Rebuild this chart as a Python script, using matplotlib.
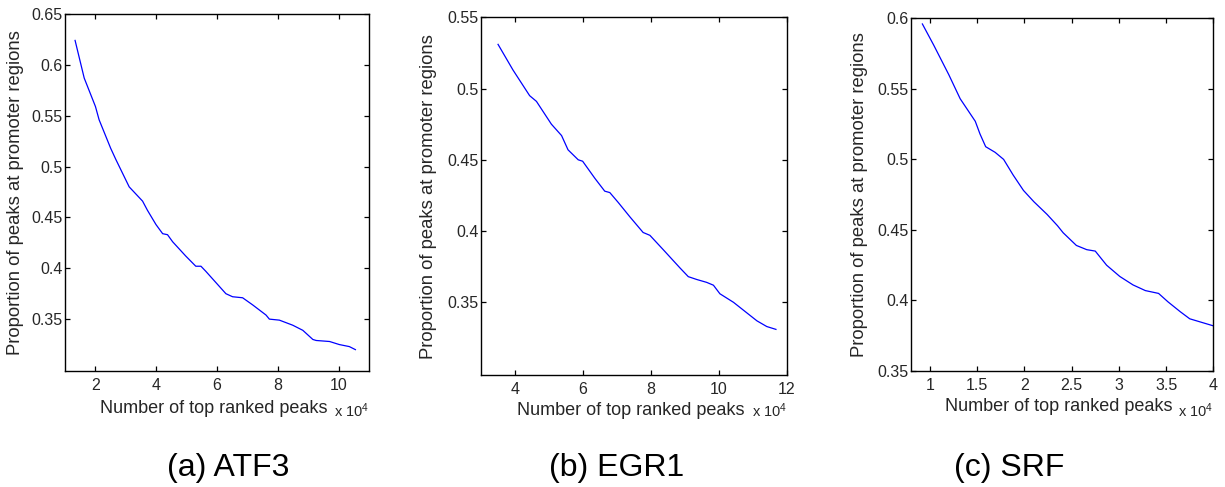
import numpy as np
import matplotlib
matplotlib.use("Agg")
import matplotlib.pyplot as plt

plt.rcParams['font.family'] = ['Liberation Sans', 'DejaVu Sans']
plt.rcParams['mathtext.fontset'] = 'custom'
plt.rcParams['mathtext.rm'] = 'Liberation Sans'
plt.rcParams['mathtext.it'] = 'Liberation Sans'

# curves (x in units of 1e4 peaks)
atf3_x = [1.33, 1.63, 2.0, 2.12, 2.5, 2.67, 3.11, 3.55, 3.71, 3.99, 4.21, 4.37, 4.54, 4.97,
          5.30, 5.47, 5.63, 6.29, 6.51, 6.84, 7.17, 7.61, 7.72, 8.05, 8.49, 8.82, 9.15,
          9.26, 9.70, 10.02, 10.35, 10.55]
atf3_y = [0.624, 0.587, 0.559, 0.546, 0.518, 0.507, 0.480, 0.466, 0.457, 0.443, 0.434, 0.433,
          0.426, 0.412, 0.402, 0.402, 0.397, 0.375, 0.372, 0.371, 0.364, 0.354, 0.350, 0.349,
          0.344, 0.339, 0.330, 0.329, 0.328, 0.325, 0.323, 0.320]

egr1_x = [3.50, 3.94, 4.43, 4.63, 5.07, 5.37, 5.56, 5.86, 5.99, 6.35, 6.64, 6.79, 7.04, 7.38,
          7.77, 7.97, 8.36, 8.86, 9.10, 9.35, 9.64, 9.84, 10.03, 10.43, 11.12, 11.41, 11.68]
egr1_y = [0.531, 0.513, 0.495, 0.491, 0.475, 0.467, 0.457, 0.450, 0.449, 0.437, 0.428, 0.427,
          0.420, 0.410, 0.399, 0.397, 0.387, 0.374, 0.368, 0.366, 0.364, 0.362, 0.356, 0.350,
          0.337, 0.333, 0.331]

srf_x = [0.92, 1.04, 1.20, 1.32, 1.48, 1.53, 1.59, 1.69, 1.78, 1.88, 1.99, 2.10, 2.24, 2.35,
         2.41, 2.55, 2.66, 2.75, 2.87, 3.01, 3.15, 3.28, 3.42, 3.52, 3.65, 3.75, 3.90, 4.0]
srf_y = [0.596, 0.581, 0.560, 0.543, 0.527, 0.518, 0.509, 0.505, 0.500, 0.489, 0.478, 0.470,
         0.461, 0.453, 0.448, 0.439, 0.436, 0.435, 0.425, 0.417, 0.411, 0.407, 0.405, 0.399,
         0.392, 0.387, 0.384, 0.382]

captions = ['(a) ATF3', '(b) EGR1', '(c) SRF']

panels = [
    dict(x=atf3_x, y=atf3_y, xlim=(1, 11), ylim=(0.299, 0.65),
         xticks=[2, 4, 6, 8, 10], yticks=[0.35, 0.4, 0.45, 0.5, 0.55, 0.6, 0.65],
         pos=[0.0531, 0.2382, 0.2482, 0.7331], ylab=-0.135, xlab=-0.081, exp=-0.129, cap=0.186),
    dict(x=egr1_x, y=egr1_y, xlim=(3, 12), ylim=(0.299, 0.55),
         xticks=[4, 6, 8, 10, 12], yticks=[0.35, 0.4, 0.45, 0.5, 0.55],
         pos=[0.3927, 0.2300, 0.2496, 0.7345], ylab=-0.144, xlab=-0.075, exp=-0.117, cap=0.503),
    dict(x=srf_x, y=srf_y, xlim=(0.8, 4), ylim=(0.35, 0.6),
         xticks=[1, 1.5, 2, 2.5, 3, 3.5, 4], yticks=[0.35, 0.4, 0.45, 0.5, 0.55, 0.6],
         pos=[0.7437, 0.2382, 0.2468, 0.7242], ylab=-0.142, xlab=-0.077, exp=-0.13, cap=0.824),
]

fig = plt.figure(figsize=(12.25, 4.87), dpi=100)

for p, cap in zip(panels, captions):
    ax = fig.add_axes(p['pos'])
    ax.plot(p['x'], p['y'], color='#0000ff', lw=0.9)
    ax.set_xlim(*p['xlim'])
    ax.set_ylim(*p['ylim'])
    ax.set_xticks(p['xticks'])
    ax.set_xticklabels(['%g' % t for t in p['xticks']])
    ax.set_yticks(p['yticks'])
    ax.set_yticklabels(['%g' % t for t in p['yticks']])
    ax.tick_params(direction='in', top=True, right=True, length=3.5, width=0.9,
                   labelsize=11.5, labelcolor='#262626')
    ax.tick_params(axis='x', pad=5)
    ax.tick_params(axis='y', pad=2)
    for s in ax.spines.values():
        s.set_linewidth(1.0)
    ax.set_ylabel('Proportion of peaks at promoter regions', fontsize=13.3, color='#262626')
    ax.yaxis.set_label_coords(p['ylab'], 0.5)
    ax.set_xlabel('Number of top ranked peaks', fontsize=13, color='#262626')
    ax.xaxis.set_label_coords(0.49, p['xlab'])
    ax.text(1.0, p['exp'], r'x $10^4$', transform=ax.transAxes, ha='right',
            va='baseline', fontsize=10.5, color='#262626')
    fig.text(p['cap'], 0.039, cap, ha='center', va='center', fontsize=23)

fig.savefig('out.png', dpi=100)
